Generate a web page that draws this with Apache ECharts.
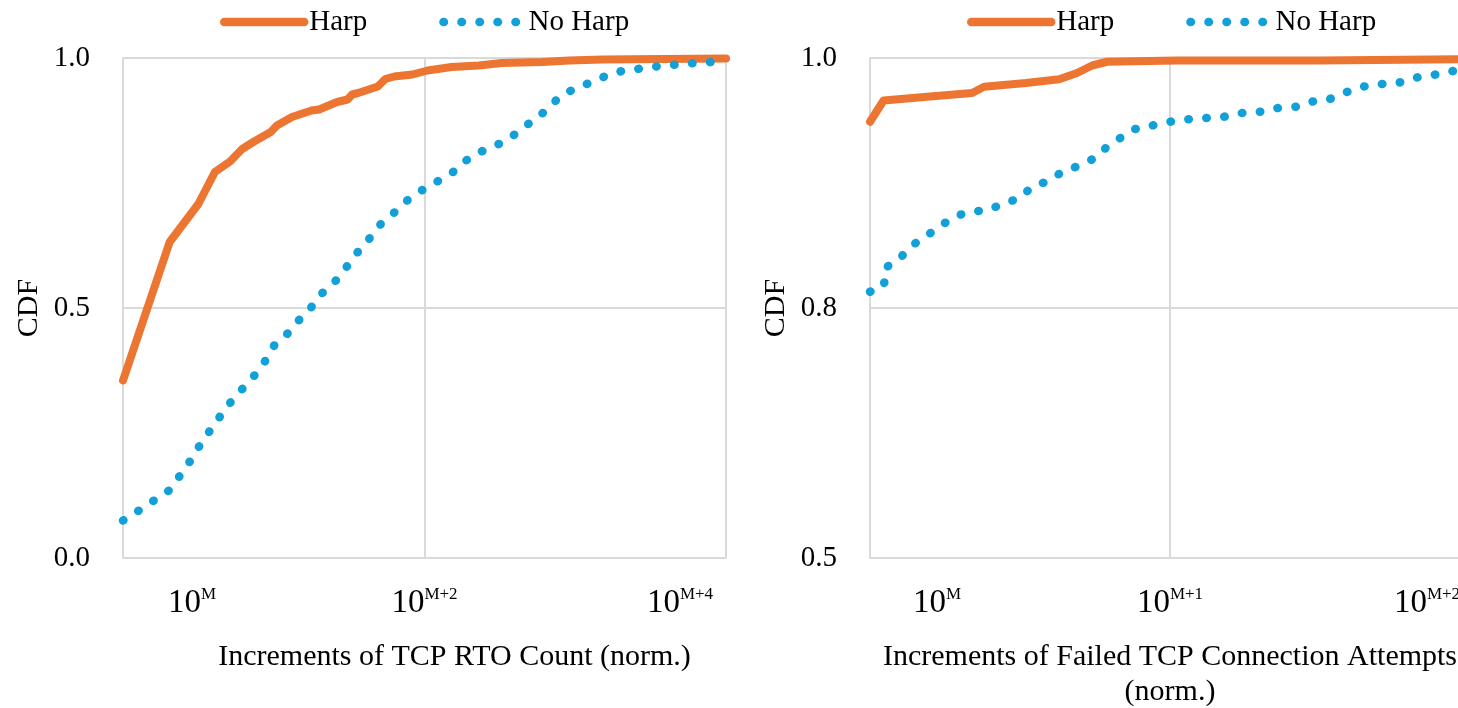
<!DOCTYPE html>
<html>
<head>
<meta charset="utf-8">
<script src="https://cdn.jsdelivr.net/npm/echarts@6/dist/echarts.min.js"></script>
<style>
  html, body { margin: 0; padding: 0; background: #fff; }
  #main { width: 1458px; height: 708px; }
</style>
</head>
<body>
<div id="main"></div>
<script>
// x values are increments in units of 10^M (normalised)
const seriesNames = ['Harp', 'No Harp']

// left panel: TCP RTO count
const rtoHarpX = [1, 2.04, 3.16, 4.07, 5.13, 6.17, 7.41, 9.55, 10.5, 13.2, 17.8, 20, 26.3, 30.9, 33.1, 36.3, 49, 55, 63, 83, 105, 151, 229, 324, 603, 912, 1514, 10000]
const rtoHarpY = [0.355, 0.632, 0.708, 0.772, 0.793, 0.818, 0.833, 0.852, 0.865, 0.882, 0.895, 0.897, 0.912, 0.917, 0.927, 0.930, 0.943, 0.958, 0.963, 0.967, 0.975, 0.982, 0.985, 0.990, 0.992, 0.995, 0.997, 0.999]
const rtoNoHarpX = [1, 1.29, 1.62, 2.04, 2.40, 2.82, 3.24, 3.80, 4.47, 5.25, 6.31, 7.59, 8.91, 10.2, 12.6, 15.1, 18.2, 21.4, 26.3, 30.9, 36.3, 43.7, 51.3, 63.1, 75.9, 95.5, 120, 151, 182, 229, 288, 363, 447, 550, 661, 794, 1000, 1288, 1622, 2089, 2754, 3631, 4786, 6310, 8128, 10000]
const rtoNoHarpY = [0.075, 0.096, 0.116, 0.136, 0.166, 0.196, 0.226, 0.256, 0.286, 0.314, 0.341, 0.368, 0.397, 0.428, 0.451, 0.480, 0.505, 0.533, 0.557, 0.585, 0.613, 0.641, 0.668, 0.691, 0.714, 0.735, 0.752, 0.769, 0.792, 0.811, 0.823, 0.838, 0.860, 0.879, 0.899, 0.924, 0.939, 0.952, 0.965, 0.975, 0.979, 0.984, 0.987, 0.990, 0.992, 0.995]

// right panel: failed TCP connection attempts
const connHarpX = [1, 1.11, 1.55, 2.19, 2.40, 3.31, 4.27, 4.90, 5.50, 6.17, 10.5, 31.6, 100]
const connHarpY = [0.949, 0.966, 0.969, 0.972, 0.977, 0.980, 0.983, 0.988, 0.994, 0.997, 0.998, 0.998, 0.999]
const connNoHarpX = [1, 1.114, 1.125, 1.26, 1.38, 1.55, 1.70, 1.91, 2.14, 2.45, 2.75, 3.16, 3.47, 3.98, 4.37, 5.01, 5.62, 6.17, 6.92, 7.59, 8.71, 10, 11.5, 13.2, 15.1, 17.4, 20, 22.9, 26.3, 29.5, 33.9, 38.0, 43.7, 50.1, 57.5, 64.6, 74.1, 85.1, 100]
const connNoHarpY = [0.813, 0.818, 0.832, 0.840, 0.850, 0.858, 0.865, 0.873, 0.877, 0.878, 0.883, 0.888, 0.897, 0.902, 0.909, 0.914, 0.920, 0.929, 0.937, 0.943, 0.946, 0.949, 0.951, 0.952, 0.953, 0.956, 0.957, 0.960, 0.961, 0.965, 0.967, 0.972, 0.977, 0.979, 0.980, 0.984, 0.986, 0.989, 0.992]

// tick labels
const leftXLabels = ['M', 'M+2', 'M+4']
const rightXLabels = ['M', 'M+1', 'M+2']
const rightYLabels = ['0.5', '0.8', '1.0']

const FONT = 'Liberation Serif'
const ORANGE = '#ED7532'
const BLUE = '#12A0D8'
const GRID = '#d9d9d9'

const zip = (xs, ys) => xs.map((x, i) => [x, ys[i]])

var chartDom = document.getElementById('main')
var myChart = echarts.init(chartDom)

// labels in the source sit off their ticks, so pad the first/last ones
const xLabelRich = (padFirst, padLast) => ({
  b: { fontFamily: FONT, fontSize: 33, color: '#000', lineHeight: 34 },
  bL: { fontFamily: FONT, fontSize: 33, color: '#000', lineHeight: 34, padding: [0, 0, 0, padFirst] },
  s: { fontFamily: FONT, fontSize: 17, color: '#000', lineHeight: 17, verticalAlign: 'top' },
  sR: { fontFamily: FONT, fontSize: 17, color: '#000', lineHeight: 17, verticalAlign: 'top', padding: [0, padLast, 0, 0] }
})

const makeXAxis = (idx, base, max, labels, name, padFirst, padLast, namePad) => ({
  gridIndex: idx,
  type: 'log',
  logBase: base,
  min: 1,
  max: max,
  name: name,
  nameLocation: 'middle',
  nameGap: 82,
  nameTextStyle: { fontFamily: FONT, fontSize: 30, color: '#000', lineHeight: 35, padding: namePad },
  axisLine: { show: true, lineStyle: { color: GRID, width: 2 } },
  axisTick: { show: false },
  axisLabel: {
    margin: 28,
    formatter: function (v) {
      const i = Math.round(Math.log(v) / Math.log(base))
      if (i === 0) return '{bL|10}{s|' + labels[0] + '}'
      if (i === labels.length - 1) return '{b|10}{sR|' + labels[i] + '}'
      return '{b|10}{s|' + labels[i] + '}'
    },
    rich: xLabelRich(padFirst, padLast)
  },
  splitLine: { show: true, lineStyle: { color: GRID, width: 2 } }
})

const makeYAxis = (idx, min, interval, fmt) => ({
  gridIndex: idx,
  type: 'value',
  min: min,
  max: 1,
  interval: interval,
  name: 'CDF',
  nameLocation: 'middle',
  nameGap: 79,
  nameRotate: 90,
  nameTextStyle: { fontFamily: FONT, fontSize: 30, color: '#000' },
  axisLine: { show: true, lineStyle: { color: GRID, width: 2 } },
  axisTick: { show: false },
  axisLabel: { fontFamily: FONT, fontSize: 29, color: '#000', margin: 33, formatter: fmt },
  splitLine: { show: true, lineStyle: { color: GRID, width: 2 } }
})

const makeSeries = (name, idx, data, color, dotted) => ({
  name: name,
  type: 'line',
  xAxisIndex: idx,
  yAxisIndex: idx,
  data: data,
  symbol: 'none',
  showSymbol: false,
  silent: true,
  lineStyle: dotted
    ? { color: color, width: 8.5, type: [0.5, 17.5], cap: 'round', join: 'round' }
    : { color: color, width: 8, cap: 'round', join: 'round' },
  itemStyle: { color: color }
})

const makeLegend = (left) => ({
  left: left,
  top: 2,
  itemWidth: 80,
  itemHeight: 8,
  itemGap: 72,
  data: seriesNames,
  itemStyle: { opacity: 0 },
  lineStyle: { width: 8.5, cap: 'round' },
  textStyle: { fontFamily: FONT, fontSize: 29, color: '#000', lineHeight: 30 }
})

var option = {
  backgroundColor: '#fff',
  animation: false,
  legend: [makeLegend(215), makeLegend(962)],
  grid: [
    { left: 123, right: 732, top: 58, bottom: 150, outerBoundsMode: 'none' },
    { left: 870, right: -12, top: 58, bottom: 150, outerBoundsMode: 'none' }
  ],
  xAxis: [
    makeXAxis(0, 100, 10000, leftXLabels, 'Increments of TCP RTO Count (norm.)', 138, 92, [0, 0, 0, 60]),
    makeXAxis(1, 10, 100, rightXLabels, 'Increments of Failed TCP Connection Attempts\n(norm.)', 134, 86, 0)
  ],
  yAxis: [
    makeYAxis(0, 0, 0.5, v => v.toFixed(1)),
    // the source axis is broken: bottom tick reads 0.5 while spacing matches 0.6
    makeYAxis(1, 0.6, 0.2, v => rightYLabels[Math.round((v - 0.6) / 0.2)])
  ],
  series: [
    makeSeries('Harp', 0, zip(rtoHarpX, rtoHarpY), ORANGE, false),
    makeSeries('No Harp', 0, zip(rtoNoHarpX, rtoNoHarpY), BLUE, true),
    makeSeries('Harp', 1, zip(connHarpX, connHarpY), ORANGE, false),
    makeSeries('No Harp', 1, zip(connNoHarpX, connNoHarpY), BLUE, true)
  ]
}

option && myChart.setOption(option)
</script>
</body>
</html>
